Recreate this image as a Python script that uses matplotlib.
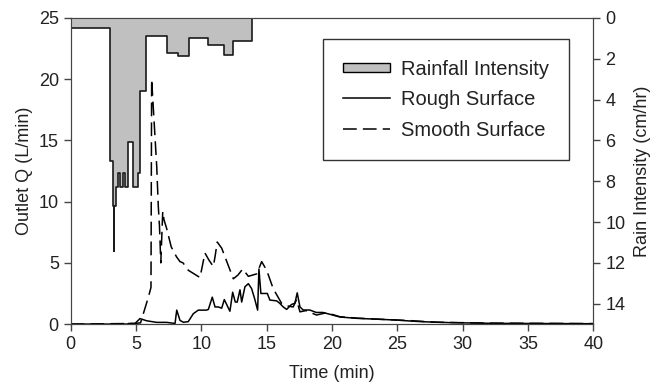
import numpy as np
import matplotlib
matplotlib.use("Agg")
import matplotlib.pyplot as plt
from matplotlib.patches import Patch, Rectangle
from matplotlib.lines import Line2D
from matplotlib.legend_handler import HandlerPatch

plt.rcParams['font.family'] = ['Liberation Sans', 'DejaVu Sans']
plt.rcParams['font.size'] = 13

# chuva (cm/hr), degraus "post"
rain_t = [0, 3.02, 3.27, 3.30, 3.33, 3.48, 3.65, 3.78, 3.99, 4.17, 4.42, 4.80,
          5.18, 5.31, 5.77, 7.35, 8.25, 9.06, 10.5, 11.7, 12.45, 13.85, 40]
rain_v = [0.5, 7.0, 9.2, 11.4, 9.2, 8.3, 7.6, 8.3, 7.6, 8.3, 6.1, 8.3,
          7.6, 3.6, 0.9, 1.7, 1.85, 1.0, 1.35, 1.8, 1.15, 0.0, 0.0]

# superficie rugosa (L/min)
rough_t = [0, 4.4, 4.42, 4.93, 5.31, 5.82, 6.59, 7.35, 7.99, 8.12, 8.37, 8.63,
           9.0, 9.39, 9.77, 10.4, 10.54, 10.84, 11.05, 11.3, 11.56, 11.76, 11.94,
           12.19, 12.4, 12.6, 12.75, 12.96, 13.09, 13.34, 13.6, 13.85, 14.1, 14.31,
           14.41, 14.56, 15.05, 15.25, 15.76, 16.0, 16.27, 16.53, 16.9, 17.16,
           17.34, 17.55, 17.8, 18.3, 18.8, 19.3, 19.84, 20.6, 21.9, 23.4, 24.9,
           26.0, 27.0, 29.0, 32.3, 40]
rough_q = [0, 0, 0.05, 0.05, 0.45, 0.27, 0.14, 0.14, 0.05, 1.14, 0.3, 0.15,
           0.2, 0.85, 1.14, 1.14, 1.2, 2.2, 1.4, 1.4, 1.3, 2.0, 1.6,
           1.05, 2.6, 1.8, 1.8, 2.8, 1.8, 3.05, 3.3, 2.9, 2.0, 1.14,
           4.5, 2.5, 2.5, 1.96, 1.9, 1.7, 1.4, 1.2, 1.6, 1.7,
           2.55, 1.4, 1.15, 1.15, 0.95, 0.95, 0.8, 0.58, 0.47, 0.4, 0.33,
           0.25, 0.19, 0.12, 0.06, 0.03]

# superficie lisa (L/min)
smooth_t = [0, 4.9, 5.35, 5.95, 6.15, 6.2, 6.59, 6.71, 6.8, 6.9, 7.05, 7.15,
            7.35, 7.7, 8.1, 8.37, 8.6, 9.0, 9.6, 9.9, 10.28, 10.6, 10.92, 11.05,
            11.22, 11.56, 12.06, 12.45, 12.8, 13.17, 13.6, 14.24, 14.62, 15.0,
            15.5, 16.14, 16.5, 17.03, 17.29, 17.55, 18.0, 18.82, 19.59, 20.6,
            22, 24, 26, 28, 32, 40]
smooth_q = [0, 0.05, 0.1, 2.2, 3.0, 20.0, 12.85, 9.6, 8.0, 5.0, 9.2, 8.5,
            7.8, 6.3, 5.5, 5.1, 5.0, 4.4, 4.0, 3.8, 5.8, 5.2, 4.7, 5.5,
            6.7, 6.2, 4.8, 3.7, 4.0, 4.5, 3.9, 4.1, 5.1, 4.4,
            2.9, 1.7, 1.5, 1.4, 2.0, 1.0, 1.1, 0.74, 0.93, 0.6,
            0.48, 0.38, 0.28, 0.15, 0.08, 0.04]

cor_texto = '#222222'
cor_eixo = '#444444'


# retangulo mais baixo para a legenda da chuva
def retanguloLegenda(legend, orig_handle, xdescent, ydescent, width, height, fontsize):
    return Rectangle((-xdescent, -ydescent + height * 0.2), width, height * 0.6)


fig = plt.figure(figsize=(6.6, 3.9), dpi=100)
ax = fig.add_axes([0.107, 0.169, 0.792, 0.785])
ax2 = ax.twinx()

ax.plot(rough_t, rough_q, color='k', lw=1.1)
ax.plot(smooth_t, smooth_q, color='k', lw=1.1, dashes=(9, 4))

ax2.fill_between(rain_t, 0, rain_v, step='post', facecolor='#c0c0c0', lw=0)
ax2.step(rain_t, rain_v, where='post', color='#1a1a1a', lw=1.2)

ax.set_xlim(0, 40)
ax.set_ylim(0, 25)
ax.set_xticks(np.arange(0, 41, 5))
ax.set_yticks(np.arange(0, 26, 5))
ax2.set_ylim(15, 0)
ax2.set_yticks(np.arange(0, 15, 2))

ax.set_xlabel('Time (min)', color=cor_texto, labelpad=9)
ax.set_ylabel('Outlet Q (L/min)', color=cor_texto, labelpad=4)
ax2.set_ylabel('Rain Intensity (cm/hr)', color=cor_texto, labelpad=6)

for a in (ax, ax2):
    a.tick_params(colors=cor_eixo, labelcolor=cor_texto, length=5, width=1)
    for s in a.spines.values():
        s.set_color(cor_eixo)

handles = [Patch(facecolor='#c0c0c0', edgecolor='k', lw=1),
           Line2D([], [], color='k', lw=1.1),
           Line2D([], [], color='k', lw=1.1, dashes=(9, 4))]
labels = ['Rainfall Intensity', 'Rough Surface', 'Smooth Surface']
leg = ax2.legend(handles, labels, loc='upper left', bbox_to_anchor=(0.489, 0.899),
                 bbox_transform=fig.transFigure, borderaxespad=0, fancybox=False,
                 framealpha=1, edgecolor='#333333', fontsize=14.5,
                 handlelength=2.35, handletextpad=0.55, borderpad=1.0,
                 labelspacing=0.58,
                 handler_map={Patch: HandlerPatch(patch_func=retanguloLegenda)})
leg.get_frame().set_linewidth(1.0)
for t in leg.get_texts():
    t.set_color(cor_texto)

fig.savefig('out.png', dpi=100)
